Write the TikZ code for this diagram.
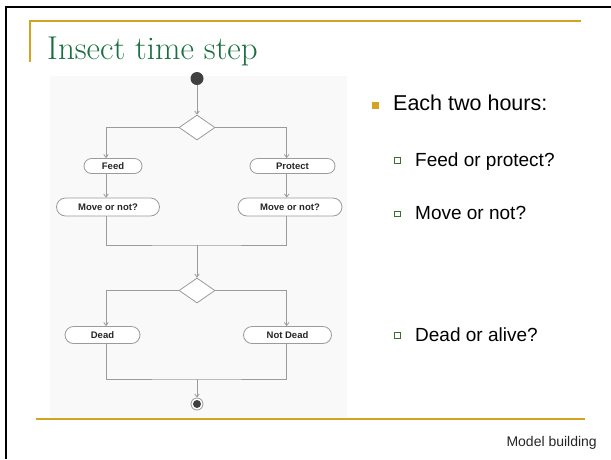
\documentclass[tikz,border=0pt]{standalone}
\usepackage{fontspec}
\newfontfamily\arialfont{Liberation Sans}
\usetikzlibrary{calc, positioning}
\usetikzlibrary{arrows.meta}
\usetikzlibrary{shapes.geometric, shapes.misc}
\definecolor{gold}{RGB}{212,163,32}
\definecolor{titlegreen}{RGB}{26,112,64}
\definecolor{flowgray}{RGB}{155,155,155}
\definecolor{subgreen}{RGB}{60,110,50}
\tikzset{
  flow/.style={draw=flowgray, line width=0.8pt},
  flowarrow/.style={flow, -{Straight Barb[length=3pt, width=4.5pt]}},
  state/.style={rounded rectangle, draw=flowgray, fill=white, line width=0.8pt, inner sep=0pt,
    font=\arialfont\bfseries\fontsize{9.5}{10}\selectfont, text=black!85},
  choice/.style={diamond, draw=flowgray, fill=white, line width=0.8pt,
    minimum width=36pt, minimum height=25pt, inner sep=0pt},
  mainbullet/.style={fill=gold, minimum size=7.7pt, inner sep=0pt},
  subbullet/.style={draw=subgreen, fill=white, line width=0.7pt, minimum size=5.5pt, inner sep=0pt},
}
\begin{document}
\begin{tikzpicture}[x=1pt, y=-1pt]
\useasboundingbox (0,0) rectangle (611,459);
\def\lx{106}
\def\rx{286.7}
\def\mx{197}

% slide frame
\draw[line width=2.5pt] (6,459) -- (6,7) -- (611,7);
\draw[gold, line width=1.5pt] (30,62) -- (30,21) -- (581,21);
\draw[gold, line width=1.5pt] (36,419) -- (585,419);
\node[anchor=base west, inner sep=0pt, text=titlegreen, font=\fontsize{33}{37}\selectfont] (title) at (47,59) {Insect time step};

% activity diagram
\fill[black!2.5] (50,76) rectangle (347,417);
\coordinate (colL) at (\lx,0);
\coordinate (colR) at (\rx,0);
\node[circle, fill=black!75, minimum size=13pt, inner sep=0pt] (start) at (\mx,78.5) {};
\node[choice] (split1) at (\mx,127.5) {};
\node[state, minimum width=58pt, minimum height=15pt] (feed) at (113,166) {Feed};
\node[state, minimum width=85pt, minimum height=15pt] (protect) at (292.5,166) {Protect};
\node[state, minimum width=103pt, minimum height=18pt] (moveL) at (108,207) {Move or not?};
\node[state, minimum width=104pt, minimum height=18pt] (moveR) at (290,207) {Move or not?};
\coordinate (join1) at (\mx,245);
\node[choice] (split2) at (\mx,290.5) {};
\node[state, minimum width=75pt, minimum height=17pt] (dead) at (102.5,335) {Dead};
\node[state, minimum width=88pt, minimum height=17pt] (alive) at (287.5,335) {Not Dead};
\coordinate (join2) at (\mx,379);
\node[circle, draw=flowgray, fill=white, line width=0.8pt, minimum size=12pt, inner sep=0pt] (stop) at (\mx,404) {};
\node[circle, fill=black!75, minimum size=8pt, inner sep=0pt] (stopdot) at (stop) {};

\draw[flowarrow] (start) -- (split1);
\draw[flowarrow] (split1.west) -| (colL |- feed.north);
\draw[flowarrow] (split1.east) -| (colR |- protect.north);
\draw[flowarrow] (colL |- feed.south) -- (colL |- moveL.north);
\draw[flowarrow] (colR |- protect.south) -- (colR |- moveR.north);
\draw[flow] (colL |- moveL.south) |- (join1) -| (colR |- moveR.south);
\draw[flowarrow] (join1) -- (split2);
\draw[flowarrow] (split2.west) -| (colL |- dead.north);
\draw[flowarrow] (split2.east) -| (colR |- alive.north);
\draw[flow] (colL |- dead.south) |- (join2) -| (colR |- alive.south);
\draw[flowarrow] (join2) -- (stop);

% bullet list
\node[mainbullet] (b0) at (375.5,105.5) {};
\node[anchor=base west, inner sep=0pt, font=\arialfont\fontsize{21.5}{24}\selectfont] (hours) at (393,110.7) {Each two hours:};
\foreach \txt/\yy [count=\i] in {Feed or protect?/166, Move or not?/219.3, Dead or alive?/341}{
  \node[subbullet] (b\i) at (397.3,\yy-5.5) {};
  \node[anchor=base west, inner sep=0pt, font=\arialfont\fontsize{19}{22}\selectfont] (item\i) at (415,\yy) {\txt};
}
\node[anchor=base east, inner sep=0pt, text=black!85, font=\arialfont\fontsize{14}{16}\selectfont] (footer) at (597,446) {Model building};
\end{tikzpicture}
\end{document}
